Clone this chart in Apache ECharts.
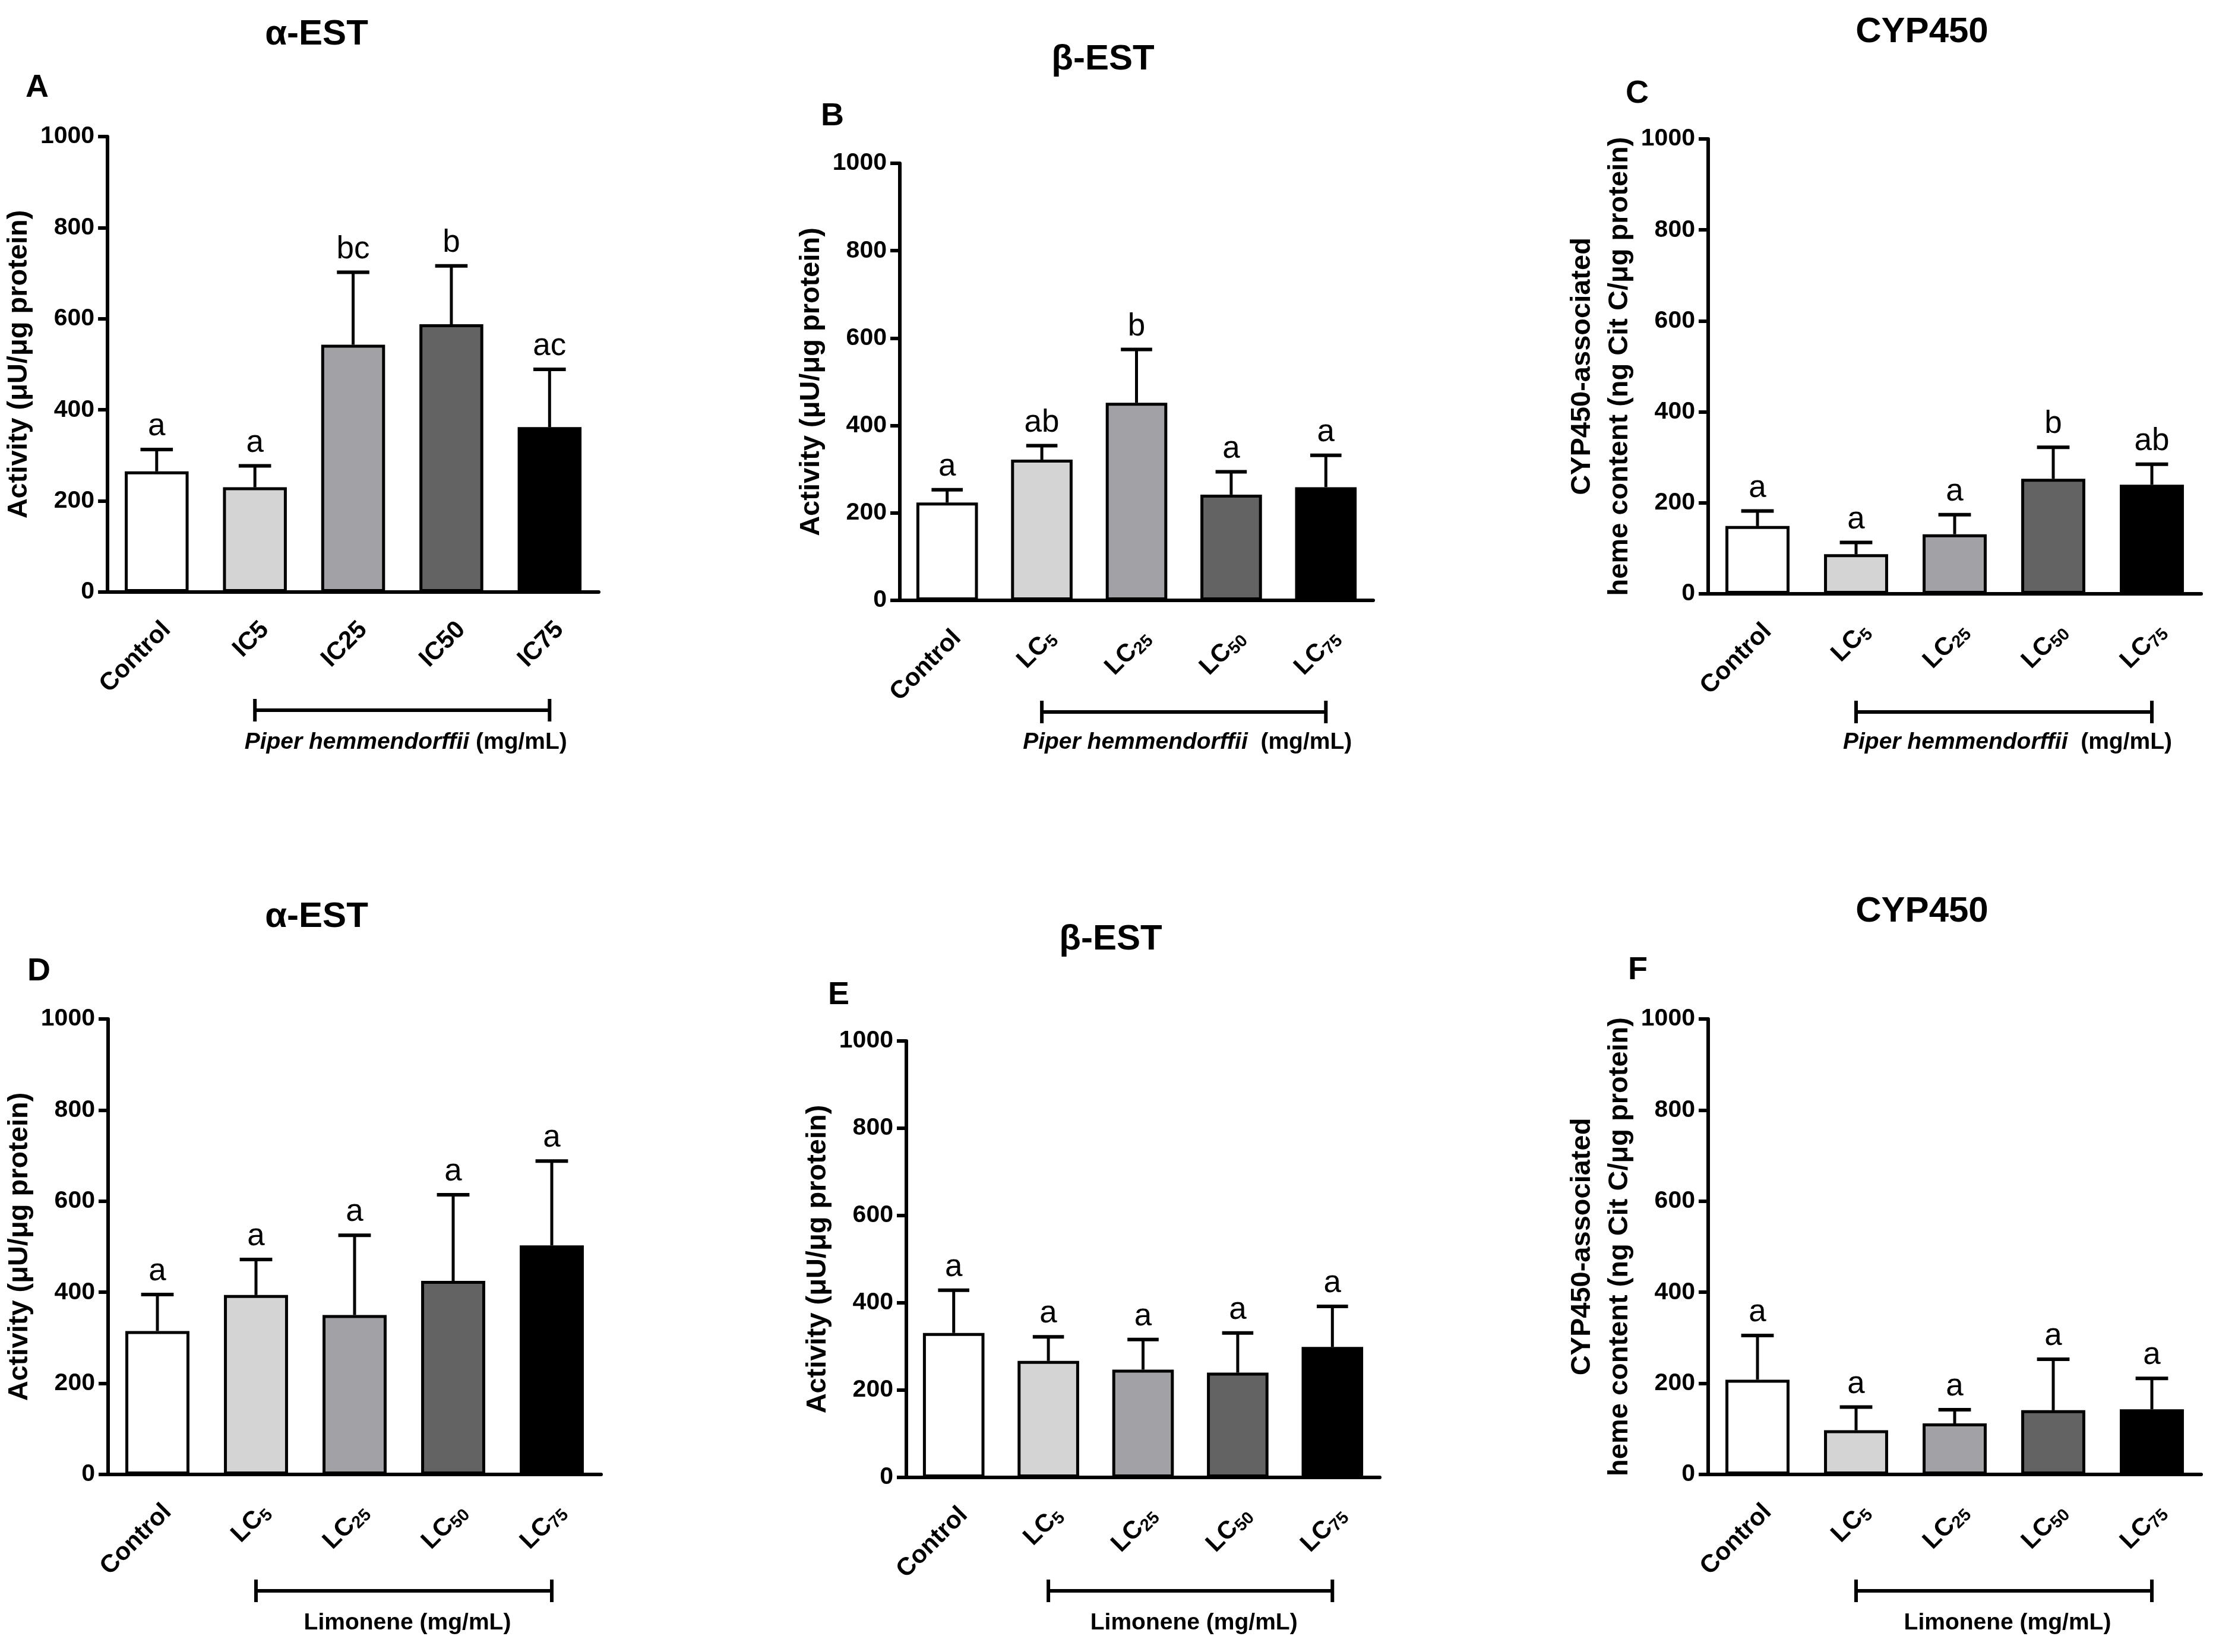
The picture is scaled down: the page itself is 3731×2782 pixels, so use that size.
<!DOCTYPE html>
<html>
<head>
<meta charset="UTF-8">
<title>EST and CYP450 activity</title>
<script src="https://cdn.jsdelivr.net/npm/echarts@6/dist/echarts.min.js"></script>
<style>
  html, body { margin: 0; padding: 0; background: #fff; }
  #main { width: 3731px; height: 2782px; }
</style>
</head>
<body>
<div id="main"></div>
<script>
// categories
var catsIC = ['Control', 'IC5', 'IC25', 'IC50', 'IC75'];
var catsLC = ['Control', 'LC5', 'LC25', 'LC50', 'LC75'];
// y axis: 0..1000 step 200
var yMin = 0, yMax = 1000, yStep = 200;

// A: alpha-EST, Piper hemmendorffii
var aMean = [265, 230, 543, 588, 362];
var aSd = [48, 47, 159, 128, 127];
var aSig = ['a', 'a', 'bc', 'b', 'ac'];
// B: beta-EST, Piper hemmendorffii
var bMean = [224, 322, 452, 242, 259];
var bSd = [29, 32, 122, 52, 73];
var bSig = ['a', 'ab', 'b', 'a', 'a'];
// C: CYP450, Piper hemmendorffii
var cMean = [149, 87, 131, 253, 240];
var cSd = [33, 26, 43, 69, 45];
var cSig = ['a', 'a', 'a', 'b', 'ab'];
// D: alpha-EST, limonene
var dMean = [315, 394, 350, 425, 503];
var dSd = [80, 78, 175, 189, 185];
var dSig = ['a', 'a', 'a', 'a', 'a'];
// E: beta-EST, limonene
var eMean = [331, 267, 247, 240, 299];
var eSd = [98, 55, 69, 91, 93];
var eSig = ['a', 'a', 'a', 'a', 'a'];
// F: CYP450, limonene
var fMean = [208, 97, 112, 141, 143];
var fSd = [97, 51, 30, 112, 68];
var fSig = ['a', 'a', 'a', 'a', 'a'];

var barColors = ['#ffffff', '#d4d4d4', '#a2a1a6', '#636363', '#000000'];
var FONT = '"Liberation Sans", Arial, sans-serif';

var nameEst = 'Activity (\u03bcU/\u03bcg protein)';
var nameCyp = 'CYP450-associated\nheme content (ng Cit C/\u03bcg protein)';

var panels = [
  { letter: 'A', title: '\u03b1-EST', cats: catsIC, mean: aMean, sd: aSd, sig: aSig, yName: nameEst, agent: 'piper1',
    grid: { left: 178, top: 230, width: 830, height: 767 }, nameGap: 108,
    titleX: 533, titleY: 58, letterX: 43, letterY: 148, brY: 1196, txtY: 1250 },
  { letter: 'B', title: '\u03b2-EST', cats: catsLC, mean: bMean, sd: bSd, sig: bSig, yName: nameEst, agent: 'piper2',
    grid: { left: 1515, top: 275, width: 797, height: 736 }, nameGap: 92,
    titleX: 1857, titleY: 100, letterX: 1382, letterY: 196, brY: 1199, txtY: 1250 },
  { letter: 'C', title: 'CYP450', cats: catsLC, mean: cMean, sd: cSd, sig: cSig, yName: nameCyp, agent: 'piper2',
    grid: { left: 2876, top: 234, width: 830, height: 766 }, nameGap: 107,
    titleX: 3236, titleY: 54, letterX: 2737, letterY: 158, brY: 1199, txtY: 1250 },
  { letter: 'D', title: '\u03b1-EST', cats: catsLC, mean: dMean, sd: dSd, sig: dSig, yName: nameEst, agent: 'lim',
    grid: { left: 182, top: 1716, width: 830, height: 767 }, nameGap: 111,
    titleX: 533, titleY: 1544, letterX: 46, letterY: 1636, brY: 2679, txtY: 2733 },
  { letter: 'E', title: '\u03b2-EST', cats: catsLC, mean: eMean, sd: eSd, sig: eSig, yName: nameEst, agent: 'lim',
    grid: { left: 1526, top: 1753, width: 797, height: 735 }, nameGap: 96,
    titleX: 1870, titleY: 1582, letterX: 1394, letterY: 1676, brY: 2679, txtY: 2733 },
  { letter: 'F', title: 'CYP450', cats: catsLC, mean: fMean, sd: fSd, sig: fSig, yName: nameCyp, agent: 'lim',
    grid: { left: 2876, top: 1716, width: 830, height: 767 }, nameGap: 107,
    titleX: 3236, titleY: 1535, letterX: 2741, letterY: 1634, brY: 2679, txtY: 2733 }
];

function catLabel(v) {
  var m = /^LC(\d+)$/.exec(v);
  if (m) return '{m|LC}{s|' + m[1] + '}';
  return '{m|' + v + '}';
}

function errRenderer(sig) {
  return function (params, api) {
    var base = api.coord([api.value(0), api.value(1)]);
    var top = api.coord([api.value(0), api.value(2)]);
    var half = api.size([1, 0])[0] * 0.165;
    return {
      type: 'group',
      children: [
        { type: 'line', shape: { x1: base[0], y1: base[1], x2: top[0], y2: top[1] },
          style: { stroke: '#000', lineWidth: 5 } },
        { type: 'line', shape: { x1: top[0] - half, y1: top[1], x2: top[0] + half, y2: top[1] },
          style: { stroke: '#000', lineWidth: 6 } },
        { type: 'text', x: top[0], y: top[1] - 12,
          style: { text: sig[params.dataIndex], align: 'center', verticalAlign: 'bottom',
                   fontSize: 53, fontFamily: FONT, fill: '#000' } }
      ]
    };
  };
}

var chart = echarts.init(document.getElementById('main'), null, { renderer: 'canvas' });

var grids = [], xAxes = [], yAxes = [], series = [];
panels.forEach(function (p, i) {
  grids.push(p.grid);
  xAxes.push({
    gridIndex: i, type: 'category', data: p.cats,
    axisLine: { lineStyle: { color: '#000', width: 6 } },
    axisTick: { alignWithLabel: true, length: 18, lineStyle: { color: '#000', width: 6 } },
    axisLabel: {
      interval: 0, rotate: 45, margin: 40, verticalAlign: 'top', color: '#000',
      formatter: catLabel,
      rich: {
        m: { fontSize: 42, fontWeight: 'bold', fontFamily: FONT, color: '#000', lineHeight: 48 },
        s: { fontSize: 29, fontWeight: 'bold', fontFamily: FONT, color: '#000', lineHeight: 18, verticalAlign: 'bottom' }
      }
    }
  });
  yAxes.push({
    gridIndex: i, type: 'value', min: yMin, max: yMax, interval: yStep,
    splitLine: { show: false },
    axisLine: { show: true, lineStyle: { color: '#000', width: 6 } },
    axisTick: { show: true, length: 16, lineStyle: { color: '#000', width: 6 } },
    axisLabel: { margin: 22, fontSize: 41, fontWeight: 'bold', fontFamily: FONT, color: '#000',
      formatter: function (v) { return String(v); } },
    name: p.yName, nameLocation: 'middle', nameGap: p.nameGap,
    nameTextStyle: { fontSize: 47, fontWeight: 'bold', fontFamily: FONT, color: '#000', lineHeight: 63 }
  });
  series.push({
    type: 'bar', xAxisIndex: i, yAxisIndex: i, barWidth: '65%',
    itemStyle: { borderColor: '#000', borderWidth: 5 },
    data: p.mean.map(function (v, k) { return { value: v, itemStyle: { color: barColors[k] } }; })
  });
  series.push({
    type: 'custom', xAxisIndex: i, yAxisIndex: i, z: 5,
    encode: { x: 0, y: [1, 2] },
    data: p.mean.map(function (v, k) { return [k, v, v + p.sd[k]]; }),
    renderItem: errRenderer(p.sig)
  });
});

chart.setOption({
  animation: false,
  backgroundColor: '#fff',
  textStyle: { fontFamily: FONT },
  grid: grids, xAxis: xAxes, yAxis: yAxes, series: series
});

// titles, panel letters, treatment brackets
var g = [];
panels.forEach(function (p, i) {
  g.push({ type: 'text', x: p.titleX, y: p.titleY,
    style: { text: p.title, align: 'center', verticalAlign: 'middle', fontSize: 60, fontWeight: 'bold', fontFamily: FONT, fill: '#000' } });
  g.push({ type: 'text', x: p.letterX, y: p.letterY,
    style: { text: p.letter, align: 'left', verticalAlign: 'middle', fontSize: 54, fontWeight: 'bold', fontFamily: FONT, fill: '#000' } });
  var x1 = chart.convertToPixel({ xAxisIndex: i }, p.cats[1]);
  var x2 = chart.convertToPixel({ xAxisIndex: i }, p.cats[4]);
  var y = p.brY;
  g.push({ type: 'line', shape: { x1: x1, y1: y, x2: x2, y2: y }, style: { stroke: '#000', lineWidth: 6 } });
  g.push({ type: 'line', shape: { x1: x1, y1: y - 19, x2: x1, y2: y + 19 }, style: { stroke: '#000', lineWidth: 6 } });
  g.push({ type: 'line', shape: { x1: x2, y1: y - 19, x2: x2, y2: y + 19 }, style: { stroke: '#000', lineWidth: 6 } });
  var txt, rich = {
    i: { fontSize: 39, fontWeight: 'bold', fontStyle: 'italic', fontFamily: FONT, fill: '#000' },
    n: { fontSize: 39, fontWeight: 'bold', fontFamily: FONT, fill: '#000' }
  };
  if (p.agent === 'piper1') txt = '{i|Piper hemmendorffii}{n| (mg/mL)}';
  else if (p.agent === 'piper2') txt = '{i|Piper hemmendorffii}{n|  (mg/mL)}';
  else txt = '{n|Limonene (mg/mL)}';
  g.push({ type: 'text', x: (x1 + x2) / 2 + 6, y: p.txtY,
    style: { text: txt, rich: rich, align: 'center', verticalAlign: 'middle', fill: '#000' } });
});
chart.setOption({ graphic: g });
</script>
</body>
</html>
